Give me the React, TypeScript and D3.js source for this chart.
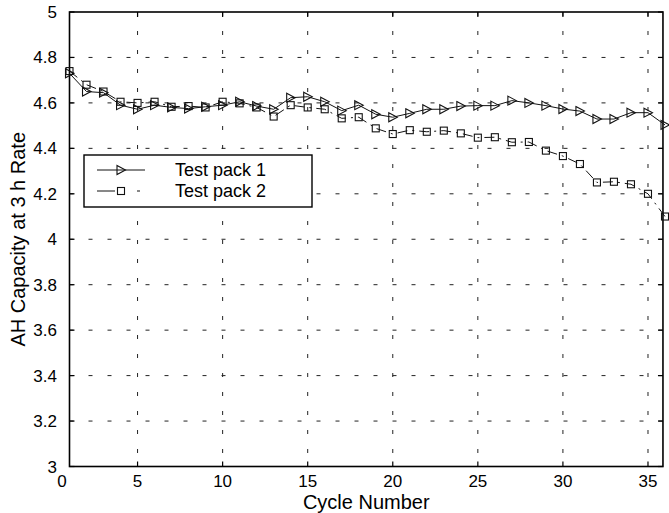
import { useEffect, useRef } from 'react';
import * as d3 from 'd3';

const cycles = [
  1, 2, 3, 4, 5, 6, 7, 8, 9, 10, 11, 12, 13, 14, 15, 16, 17, 18,
  19, 20, 21, 22, 23, 24, 25, 26, 27, 28, 29, 30, 31, 32, 33, 34, 35, 36,
];

const pack1 = [
  4.73, 4.65, 4.645, 4.59, 4.572, 4.59, 4.58, 4.575, 4.583, 4.59, 4.605, 4.586,
  4.572, 4.623, 4.627, 4.605, 4.566, 4.59, 4.55, 4.537, 4.554, 4.572, 4.572, 4.586,
  4.588, 4.588, 4.61, 4.6, 4.588, 4.573, 4.564, 4.529, 4.529, 4.557, 4.557, 4.503,
];

const pack2 = [
  4.74, 4.68, 4.65, 4.605, 4.6, 4.605, 4.583, 4.586, 4.58, 4.605, 4.598, 4.58,
  4.54, 4.59, 4.58, 4.572, 4.532, 4.537, 4.488, 4.463, 4.48, 4.473, 4.478, 4.466,
  4.447, 4.449, 4.427, 4.428, 4.39, 4.366, 4.331, 4.25, 4.253, 4.242, 4.2, 4.1,
];

const xTicks = [5, 10, 15, 20, 25, 30, 35];
const yTicks = [3, 3.2, 3.4, 3.6, 3.8, 4, 4.2, 4.4, 4.6, 4.8, 5];
const seriesNames = ['Test pack 1', 'Test pack 2'];

const FONT = '"Liberation Sans", Arial, Helvetica, sans-serif';

const App = () => {
  const svgRef = useRef<SVGSVGElement>(null);

  useEffect(() => {
    if (!svgRef.current) return;
    const svg = d3.select(svgRef.current);
    svg.selectAll('*').remove();

    const xScale = d3.scaleLinear().domain([1, 36]).range([69.5, 665]);
    const yScale = d3.scaleLinear().domain([3, 5]).range([466.5, 12]);

    const left = xScale(1);
    const right = xScale(35.88);
    const top = yScale(5);
    const bottom = yScale(3);

    // grid
    xTicks.forEach(t => {
      svg.append('line')
        .attr('x1', xScale(t)).attr('x2', xScale(t))
        .attr('y1', top).attr('y2', bottom)
        .attr('stroke', '#222').attr('stroke-width', 1)
        .attr('stroke-dasharray', '4,15');
    });
    yTicks.slice(1, -1).forEach(t => {
      svg.append('line')
        .attr('x1', left).attr('x2', right)
        .attr('y1', yScale(t)).attr('y2', yScale(t))
        .attr('stroke', '#222').attr('stroke-width', 1)
        .attr('stroke-dasharray', '4,15');
    });

    // ticks (inward on all four sides)
    const tl = 5;
    xTicks.forEach(t => {
      svg.append('line').attr('x1', xScale(t)).attr('x2', xScale(t))
        .attr('y1', bottom).attr('y2', bottom - tl).attr('stroke', '#000').attr('stroke-width', 1.2);
      svg.append('line').attr('x1', xScale(t)).attr('x2', xScale(t))
        .attr('y1', top).attr('y2', top + tl).attr('stroke', '#000').attr('stroke-width', 1.2);
    });
    yTicks.forEach(t => {
      svg.append('line').attr('x1', left).attr('x2', left + tl)
        .attr('y1', yScale(t)).attr('y2', yScale(t)).attr('stroke', '#000').attr('stroke-width', 1.2);
      svg.append('line').attr('x1', right).attr('x2', right - tl)
        .attr('y1', yScale(t)).attr('y2', yScale(t)).attr('stroke', '#000').attr('stroke-width', 1.2);
    });

    // axes box
    svg.append('rect')
      .attr('x', left).attr('y', top)
      .attr('width', right - left).attr('height', bottom - top)
      .attr('fill', 'none').attr('stroke', '#000').attr('stroke-width', 1.6);

    // tick labels
    svg.append('text')
      .attr('x', 62).attr('y', 487)
      .attr('text-anchor', 'middle').attr('font-family', FONT).attr('font-size', '17px')
      .text('0');
    xTicks.forEach(t => {
      svg.append('text')
        .attr('x', xScale(t)).attr('y', 487)
        .attr('text-anchor', 'middle').attr('font-family', FONT).attr('font-size', '17px')
        .text(String(t));
    });
    yTicks.forEach(t => {
      svg.append('text')
        .attr('x', 57).attr('y', yScale(t) + 6)
        .attr('text-anchor', 'end').attr('font-family', FONT).attr('font-size', '17px')
        .text(d3.format('~g')(t));
    });

    // axis titles
    svg.append('text')
      .attr('x', (left + right) / 2).attr('y', 509)
      .attr('text-anchor', 'middle').attr('font-family', FONT).attr('font-size', '20px')
      .text('Cycle Number');
    svg.append('text')
      .attr('transform', `translate(25,${(top + bottom) / 2}) rotate(-90)`)
      .attr('text-anchor', 'middle').attr('font-family', FONT).attr('font-size', '20px')
      .text('AH Capacity at 3 h Rate');

    const line = d3.line<number>()
      .x((_, i) => xScale(cycles[i]))
      .y(d => yScale(d));

    const tri = (g: d3.Selection<SVGGElement, unknown, null, undefined>, x: number, y: number) => {
      g.append('path')
        .attr('d', `M${x - 4},${y - 4.5}L${x + 4.5},${y}L${x - 4},${y + 4.5}Z`)
        .attr('fill', 'none').attr('stroke', '#111').attr('stroke-width', 1.1);
    };
    const sq = (g: d3.Selection<SVGGElement, unknown, null, undefined>, x: number, y: number) => {
      g.append('rect')
        .attr('x', x - 3.5).attr('y', y - 3.5).attr('width', 7).attr('height', 7)
        .attr('fill', 'none').attr('stroke', '#111').attr('stroke-width', 1.1);
    };

    // series 2 (dash-dot, squares)
    svg.append('path')
      .attr('d', line(pack2))
      .attr('fill', 'none').attr('stroke', '#111').attr('stroke-width', 1)
      .attr('stroke-dasharray', '10,5,2,5');
    const g2 = svg.append('g');
    pack2.forEach((v, i) => sq(g2, xScale(cycles[i]), yScale(v)));

    // series 1 (solid, triangles)
    svg.append('path')
      .attr('d', line(pack1))
      .attr('fill', 'none').attr('stroke', '#111').attr('stroke-width', 1);
    const g1 = svg.append('g');
    pack1.forEach((v, i) => tri(g1, xScale(cycles[i]), yScale(v)));

    // legend
    const lg = svg.append('g');
    lg.append('rect')
      .attr('x', 84).attr('y', 155).attr('width', 228).attr('height', 52)
      .attr('fill', '#fff').attr('stroke', '#000').attr('stroke-width', 1.4);
    const rows = [170, 191];
    lg.append('line').attr('x1', 97).attr('x2', 145).attr('y1', rows[0]).attr('y2', rows[0])
      .attr('stroke', '#111').attr('stroke-width', 1);
    tri(lg, 121, rows[0]);
    lg.append('line').attr('x1', 97).attr('x2', 142).attr('y1', rows[1]).attr('y2', rows[1])
      .attr('stroke', '#111').attr('stroke-width', 1)
      .attr('stroke-dasharray', '18,22,3,20');
    sq(lg, 121, rows[1]);
    seriesNames.forEach((name, i) => {
      lg.append('text')
        .attr('x', 175).attr('y', rows[i] + 6)
        .attr('font-family', FONT).attr('font-size', '18px')
        .text(name);
    });
  }, []);

  return (
    <svg
      ref={svgRef}
      width="669"
      height="513"
      style={{ position: 'absolute', left: 0, top: 0, background: '#fff' }}
    />
  );
};

export default App;
